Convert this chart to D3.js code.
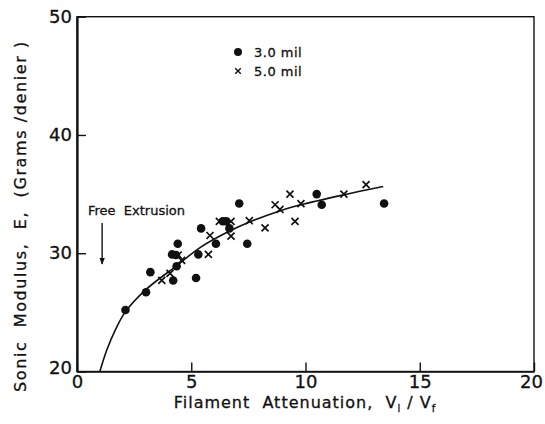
<!DOCTYPE html>
<html>
<head>
<meta charset="utf-8">
<script src="https://cdn.jsdelivr.net/npm/d3@7"></script>
<style>
  body { margin: 0; background: #fff; }
  text { font-family: "DejaVu Sans", sans-serif; fill: #111; white-space: pre; stroke: #111; stroke-width: 0.3px; }
</style>
</head>
<body>
<div id="chart"></div>
<script>
// 3.0 mil filaments (dots)
const dotX = [2.12, 3.02, 3.21, 4.16, 4.33, 4.21, 4.36, 4.41, 5.21, 5.31, 5.43, 6.08, 6.38, 6.52, 6.67, 7.10, 7.45, 10.49, 10.71, 13.44];
const dotY = [25.2, 26.7, 28.4, 29.9, 29.85, 27.7, 28.9, 30.8, 27.9, 29.9, 32.1, 30.8, 32.7, 32.7, 32.1, 34.2, 30.8, 35.0, 34.1, 34.2];

// 5.0 mil filaments (crosses)
const crossX = [3.71, 4.07, 4.43, 4.58, 5.75, 5.82, 6.23, 6.74, 6.74, 7.54, 8.23, 8.67, 8.88, 9.32, 9.54, 9.80, 11.68, 12.65];
const crossY = [27.7, 28.3, 29.85, 29.4, 29.9, 31.5, 32.7, 32.7, 31.45, 32.75, 32.15, 34.1, 33.7, 35.0, 32.7, 34.2, 35.0, 35.8];

// fitted curve
const fitX = [1.0, 1.3, 1.7, 2.1, 3.0, 4.4, 5.4, 6.7, 7.5, 8.9, 9.8, 11.7, 13.4];
const fitY = [20, 21.8, 23.6, 25.0, 26.9, 29.0, 30.5, 31.9, 32.6, 33.6, 34.1, 34.95, 35.65];

const xTicks = [0, 5, 10, 15, 20];
const yTicks = [20, 30, 40, 50];

const width = 545;
const height = 424;

const x = d3.scaleLinear().domain([0, 20]).range([77, 534]);
const y = d3.scaleLinear().domain([20, 50]).range([371.5, 16.7]);

const svg = d3.select('#chart').append('svg')
    .attr('width', width)
    .attr('height', height);

// frame
svg.append('rect')
    .attr('x', x(0)).attr('y', y(50))
    .attr('width', x(20) - x(0)).attr('height', y(20) - y(50))
    .attr('fill', 'none').attr('stroke', '#111').attr('stroke-width', 1.4);

const xAxis = svg.append('g')
    .attr('transform', `translate(0,${y(20)})`)
    .call(d3.axisBottom(x).tickValues(xTicks).tickFormat(d3.format('d'))
        .tickSizeInner(-9).tickSizeOuter(0).tickPadding(4));

const yAxis = svg.append('g')
    .attr('transform', `translate(${x(0)},0)`)
    .call(d3.axisLeft(y).tickValues(yTicks).tickFormat(d3.format('d'))
        .tickSizeInner(-9).tickSizeOuter(0).tickPadding(5));

[xAxis, yAxis].forEach(g => {
    g.select('.domain').attr('stroke', '#111').attr('stroke-width', 1.6);
    g.selectAll('.tick line').attr('stroke', '#111').attr('stroke-width', 1.4);
    g.selectAll('.tick text')
        .style('font-family', '"DejaVu Sans", sans-serif')
        .style('font-size', '18px')
        .attr('fill', '#111');
});
yAxis.select('.domain').attr('stroke-width', 2.2);
// keep the last x label inside the window
xAxis.selectAll('.tick text').filter(d => d === 20).attr('dx', -3);
yAxis.selectAll('.tick text').filter(d => d === 20).attr('dy', '0.1em');

// fitted curve
const line = d3.line()
    .x(d => x(d[0]))
    .y(d => y(d[1]))
    .curve(d3.curveCatmullRom);

svg.append('path')
    .datum(fitX.map((v, i) => [v, fitY[i]]))
    .attr('d', line)
    .attr('fill', 'none')
    .attr('stroke', '#111')
    .attr('stroke-width', 1.6);

// 3.0 mil dots
svg.selectAll('.dot')
    .data(dotX.map((v, i) => [v, dotY[i]]))
    .enter().append('circle')
    .attr('class', 'dot')
    .attr('cx', d => x(d[0]))
    .attr('cy', d => y(d[1]))
    .attr('r', 4.3)
    .attr('fill', '#111');

// 5.0 mil crosses
const cross = d3.symbol().type(d3.symbolX).size(34);
svg.selectAll('.cross')
    .data(crossX.map((v, i) => [v, crossY[i]]))
    .enter().append('path')
    .attr('class', 'cross')
    .attr('transform', d => `translate(${x(d[0])},${y(d[1])})`)
    .attr('d', cross)
    .attr('fill', 'none')
    .attr('stroke', '#111')
    .attr('stroke-width', 1.7);

// legend
svg.append('circle').attr('cx', 238).attr('cy', 52).attr('r', 4).attr('fill', '#111');
svg.append('path').attr('transform', 'translate(238,71)')
    .attr('d', d3.symbol().type(d3.symbolX).size(22))
    .attr('stroke', '#111').attr('stroke-width', 1.4).attr('fill', 'none');
svg.append('text').attr('x', 254).attr('y', 52).attr('dy', '0.35em')
    .style('font-size', '13px').style('letter-spacing', '0.5px').text('3.0 mil');
svg.append('text').attr('x', 254).attr('y', 71).attr('dy', '0.35em')
    .style('font-size', '13px').style('letter-spacing', '0.5px').text('5.0 mil');

// free extrusion annotation
svg.append('text').attr('x', 88).attr('y', 210).attr('dy', '0.35em')
    .style('font-size', '13px').text('Free  Extrusion');

svg.append('defs').append('marker')
    .attr('id', 'arrow')
    .attr('viewBox', '0 0 10 10')
    .attr('refX', 9).attr('refY', 5)
    .attr('markerWidth', 5).attr('markerHeight', 6)
    .attr('orient', 'auto')
    .append('path').attr('d', 'M0,1 L10,5 L0,9 Z').attr('fill', '#111');

svg.append('line')
    .attr('x1', x(1.1)).attr('x2', x(1.1))
    .attr('y1', 223).attr('y2', 264)
    .attr('stroke', '#111').attr('stroke-width', 1.4)
    .attr('marker-end', 'url(#arrow)');

// axis titles
const xt = svg.append('text')
    .attr('x', 305).attr('y', 408)
    .attr('text-anchor', 'middle')
    .style('font-size', '16px')
    .style('letter-spacing', '1px');
xt.append('tspan').text('Filament  Attenuation,  V');
xt.append('tspan').attr('dy', 4).style('font-size', '10px').text('l');
xt.append('tspan').attr('dy', -4).text(' / V');
xt.append('tspan').attr('dy', 4).style('font-size', '10px').text('f');

svg.append('text')
    .attr('transform', 'translate(20,216) rotate(-90)')
    .attr('text-anchor', 'middle')
    .attr('dy', '0.35em')
    .style('font-size', '16px')
    .style('letter-spacing', '1.6px')
    .text('Sonic  Modulus,  E,  (Grams /denier )');
</script>
</body>
</html>
